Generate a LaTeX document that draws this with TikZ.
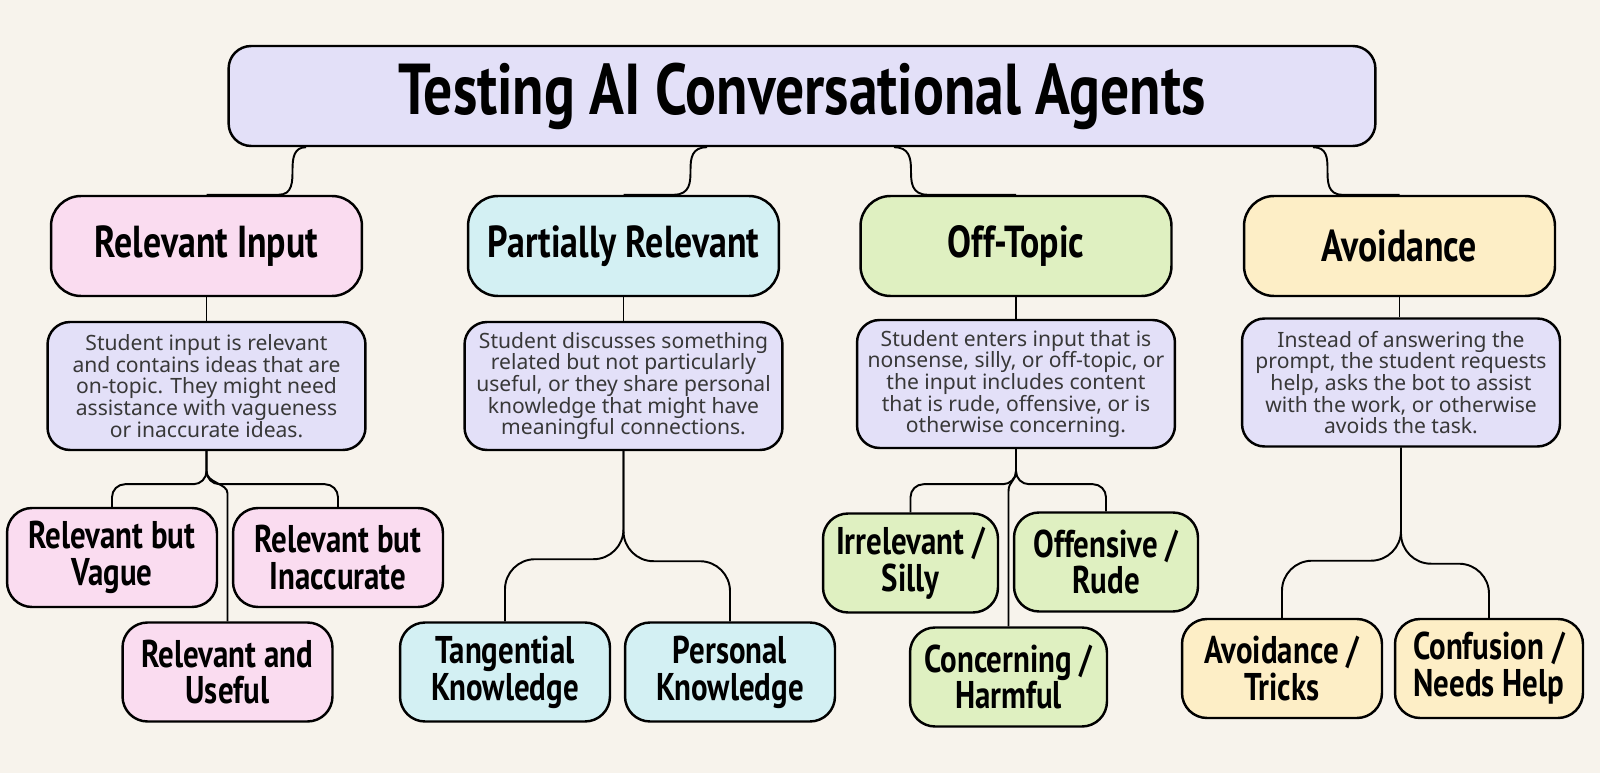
\documentclass[tikz,border=0pt]{standalone}
\usepackage{fontspec}
\setmainfont{Noto Sans}
\newfontfamily\headfont[FakeStretch=0.8]{PT Sans}

\definecolor{paper}{HTML}{F7F3EC}
\definecolor{lavender}{HTML}{E3E0F8}
\definecolor{pinkbox}{HTML}{FADCF0}
\definecolor{cyanbox}{HTML}{D3F0F3}
\definecolor{greenbox}{HTML}{DFF0C1}
\definecolor{yellowbox}{HTML}{FDEEC6}
\definecolor{bodytext}{HTML}{383838}

\tikzset{
  box/.style={draw=black, line width=1.4pt, align=center, inner sep=0pt},
  category/.style={box, rounded corners=0.6cm, minimum width=6.22cm, minimum height=2cm,
    font=\headfont\bfseries\fontsize{25.5}{26}\selectfont},
  desc/.style={box, rounded corners=0.45cm, fill=lavender, text=bodytext,
    minimum width=6.36cm, minimum height=2.56cm, font=\fontsize{12}{12.3}\selectfont},
  leaf/.style={box, rounded corners=0.5cm, minimum height=1.98cm,
    font=\headfont\bfseries\fontsize{22}{21}\selectfont},
  link/.style={line width=1.1pt, line join=round}
}

\begin{document}
\begin{tikzpicture}[x=0.02cm, y=-0.02cm]
        \fill[paper] (0,0) rectangle (1600,773);
        \useasboundingbox (0,0) rectangle (1600,773);

        \node[box, rounded corners=0.45cm, fill=lavender, minimum width=22.94cm, minimum height=2cm,
          font=\headfont\bfseries\fontsize{41}{42}\selectfont] (title) at (802,96) {Testing AI Conversational Agents};

        \node[category, fill=pinkbox] (ri) at (206.5,246) {Relevant Input};
        \node[category, fill=cyanbox] (pr) at (623.5,246) {Partially Relevant};
        \node[category, fill=greenbox] (ot) at (1016,246) {Off-Topic};
        \node[category, fill=yellowbox] (av) at (1399.5,246) {Avoidance};

        \node[desc] (rid) at (206.5,386) {Student input is relevant\\and contains ideas that are\\on-topic. They might need\\assistance with vagueness\\or inaccurate ideas.};
        \node[desc] (prd) at (623.5,386) {Student discusses something\\related but not particularly\\useful, or they share personal\\knowledge that might have\\meaningful connections.};
        \node[desc] (otd) at (1016,384) {Student enters input that is\\nonsense, silly, or off-topic, or\\the input includes content\\that is rude, offensive, or is\\otherwise concerning.};
        \node[desc] (avd) at (1401,382.5) {Instead of answering the\\prompt, the student requests\\help, asks the bot to assist\\with the work, or otherwise\\avoids the task.};

        \node[leaf, fill=pinkbox, minimum width=4.2cm] (vague) at (112,557.5) {Relevant but\\Vague};
        \node[leaf, fill=pinkbox, minimum width=4.2cm] (inacc) at (338,557.5) {Relevant but\\Inaccurate};
        \node[leaf, fill=pinkbox, minimum width=4.2cm] (useful) at (227.5,672) {Relevant and\\Useful};
        \node[leaf, fill=cyanbox, minimum width=4.2cm] (tang) at (505,672) {Tangential\\Knowledge};
        \node[leaf, fill=cyanbox, minimum width=4.2cm] (pers) at (730,672) {Personal\\Knowledge};
        \node[leaf, fill=greenbox, minimum width=3.5cm] (irrel) at (910.5,563) {Irrelevant /\\Silly};
        \node[leaf, fill=greenbox, minimum width=3.68cm] (offen) at (1106,562) {Offensive /\\Rude};
        \node[leaf, fill=greenbox, minimum width=3.94cm] (concern) at (1008.5,677) {Concerning /\\Harmful};
        \node[leaf, fill=yellowbox, minimum width=4cm] (tricks) at (1282,668.5) {Avoidance /\\Tricks};
        \node[leaf, fill=yellowbox, minimum width=3.76cm] (confus) at (1489,668.5) {Confusion /\\Needs Help};

        \draw[link] (ri.north) -- ++(72,0) .. controls +(14,0) and +(0,12) .. ++(14,-25)
          .. controls +(0,-12) and +(-12,0) .. (title.south -| 306,0);
        \draw[link] (pr.north) -- ++(50,0) .. controls +(17,0) and +(0,12) .. ++(17,-25)
          .. controls +(0,-12) and +(-15,0) .. (title.south -| 707,0);
        \draw[link] (ot.north) -- ++(-88,0) .. controls +(-17,0) and +(0,12) .. ++(-17,-25)
          .. controls +(0,-12) and +(15,0) .. (title.south -| 894,0);
        \draw[link] (av.north) -- ++(-57,0) .. controls +(-15,0) and +(0,12) .. ++(-15,-25)
          .. controls +(0,-12) and +(14,0) .. (title.south -| 1313,0);

        \draw[link] (ri.south) -- (rid.north);
        \draw[link] (pr.south) -- (prd.north);
        \draw[link] (ot.south) -- (otd.north);
        \draw[link] (av.south) -- (av.south |- avd.north);

        \draw[link, rounded corners=0.26cm] (rid.south) -- ++(0,33) -| (vague.north);
        \draw[link, rounded corners=0.26cm] (rid.south) -- ++(0,33) -| (inacc.north);
        \draw[link] (rid.south) -- ++(0,20) .. controls +(0,12) and +(0,-10) .. ++(21,22) -- (useful.north);

        \draw[link, rounded corners=0.6cm] (prd.south) -- ++(0,108) -| (tang.north);
        \draw[link, rounded corners=0.6cm] (prd.south) -- ++(0,110) -| (pers.north);

        \draw[link, rounded corners=0.26cm] (otd.south) -- ++(0,35) -| (irrel.north);
        \draw[link, rounded corners=0.26cm] (otd.south) -- ++(0,35) -| (offen.north);
        \draw[link] (otd.south) -- ++(0,22) .. controls +(0,10) and +(0,-10) .. ++(-7.5,20) -- (concern.north);

        \draw[link, rounded corners=0.6cm] (avd.south) -- ++(0,113) -| (tricks.north);
        \draw[link, rounded corners=0.6cm] (avd.south) -- ++(0,116) -| (confus.north);
\end{tikzpicture}
\end{document}
